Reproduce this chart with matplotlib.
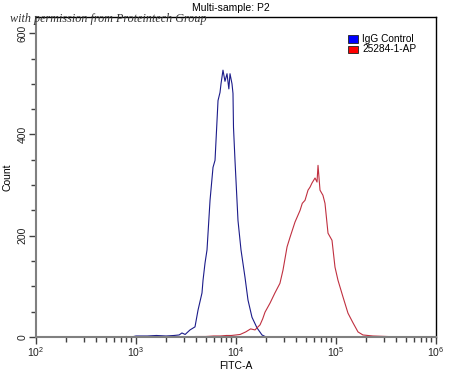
import matplotlib
matplotlib.use("Agg")
import matplotlib.pyplot as plt
import numpy as np
from matplotlib.patches import Rectangle
from matplotlib.ticker import LogLocator, MultipleLocator, FixedLocator

plt.rcParams['font.family'] = ['Liberation Sans', 'DejaVu Sans']

title = "Multi-sample: P2"
xlabel = "FITC-A"
ylabel = "Count"
legend_labels = ["IgG Control", "25284-1-AP"]
colors = ["#1c1c8a", "#c03040"]

# IgG Control (blue): FITC-A intensity vs count
igg_x = [100, 700, 800, 900, 1000, 1300, 1600, 2000, 2400, 2700, 2880, 3100, 3470,
         3890, 4170, 4570, 4680, 4900, 5130, 5500, 5890, 6170, 6610, 6920, 7080,
         7410, 7760, 8130, 8480, 8710, 9120, 9330, 9440, 9770, 10470, 11220,
         12300, 13180, 14450, 16220, 18200, 20000, 25000, 1e6]
igg_y = [0, 0, 1, 0, 2, 2, 3, 2, 3, 4, 8, 5, 14,
         20, 53, 87, 112, 146, 172, 270, 335, 349, 467, 483, 500,
         527, 505, 520, 490, 520, 500, 481, 414, 349, 230, 172,
         118, 73, 39, 18, 4, 0, 0, 0]

# 25284-1-AP (red)
ap_x = [100, 3000, 4000, 5000, 6000, 7000, 8000, 9000, 10000, 11000, 12500,
        14000, 15500, 16200, 17400, 18500, 19500, 21900, 24500, 27500, 29500,
        32400, 34700, 38900, 43700, 46000, 49000, 52500, 55000, 57500, 61700,
        64600, 66100, 69200, 72000, 74000, 77600, 83200, 91200, 97700, 104700,
        117500, 131800, 147900, 166000, 186000, 234000, 324000, 400000, 1e6]
ap_y = [0, 0, 1, 1, 2, 2, 3, 3, 4, 5, 10,
        16, 14, 18, 24, 36, 49, 67, 87, 106, 132,
        178, 197, 227, 250, 264, 270, 290, 296, 304, 314,
        306, 339, 290, 284, 280, 264, 205, 191, 138, 112,
        79, 47, 28, 10, 4, 2, 1, 0, 0]

fig = plt.figure(figsize=(4.5, 3.71), dpi=100)
ax = fig.add_axes([36/450, 1-337/371, 400/450, 320/371])

ax.plot(igg_x, igg_y, color=colors[0], lw=0.8)
ax.plot(ap_x, ap_y, color=colors[1], lw=0.8)

ax.set_xscale('log')
ax.set_xlim(1e2, 1e6)
ax.set_ylim(0, 632)

ax.xaxis.set_major_locator(FixedLocator([1e2, 1e3, 1e4, 1e5, 1e6]))
ax.xaxis.set_minor_locator(LogLocator(base=10, subs=np.arange(2, 10), numticks=20))
ax.yaxis.set_major_locator(FixedLocator([0, 200, 400, 600]))
ax.yaxis.set_minor_locator(MultipleLocator(50))

gray = "#808080"
for s in ['left', 'bottom']:
    ax.spines[s].set_color(gray)
    ax.spines[s].set_linewidth(1.5)
for s in ['top', 'right']:
    ax.spines[s].set_color('black')
    ax.spines[s].set_linewidth(1.0)

ax.tick_params(axis='both', which='major', length=5, width=1, color='#404040',
               labelsize=7.5, labelcolor='#222222', direction='out')
ax.tick_params(axis='both', which='minor', length=3.5, width=1, color='#404040', direction='out')
ax.tick_params(axis='x', which='major', pad=1)
ax.tick_params(axis='y', which='major', pad=1)
for lab in ax.get_yticklabels():
    lab.set_rotation(90)
    lab.set_va('center')

ax.set_xlabel(xlabel, fontsize=7.5, labelpad=1)
ax.set_ylabel(ylabel, fontsize=7.5, labelpad=4)
fig.text(231/450, 1-8/371, title, ha='center', va='center', fontsize=7.5)

fig.text(10/450, 1-19/371, "with permission from Proteintech Group",
         family=['Liberation Serif'], style='italic', fontsize=8.7,
         color='#333333', ha='left', va='center')

# legend
for i, (lab, c) in enumerate(zip(legend_labels, colors)):
    y_top = 35 + i*10.5
    y0 = 1 - (y_top + 7.5)/371
    fig.patches.append(Rectangle((348/450, y0), 10/450, 7.5/371, transform=fig.transFigure,
                                 facecolor=['#0000ff', '#ff0000'][i], edgecolor='#202020', lw=0.6))
    fig.text(362/450, y0 + 3.75/371, lab, fontsize=7.3, va='center', ha='left')

fig.savefig("out.png", dpi=100)
